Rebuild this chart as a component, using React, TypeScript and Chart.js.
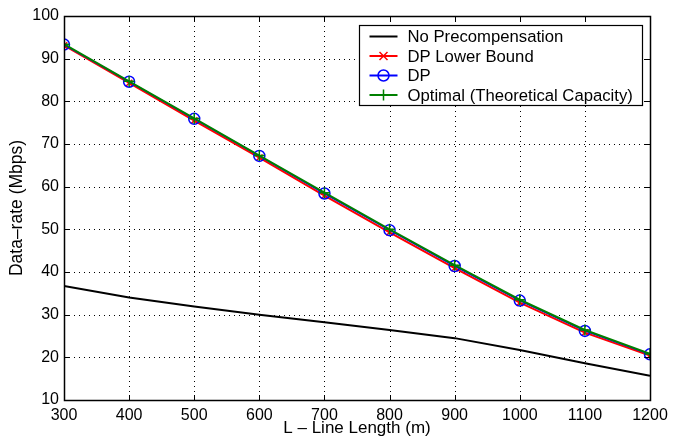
import React, { useEffect, useRef } from "react";
import { Chart, registerables } from "chart.js";

Chart.register(...registerables);

const lineLengths = [300, 400, 500, 600, 700, 800, 900, 1000, 1100, 1200];
const noPrecomp = [36.7, 34.0, 31.9, 30.0, 28.2, 26.4, 24.5, 21.7, 18.6, 15.7];
const dpLowerBound = [93.1, 84.3, 75.5, 66.8, 57.9, 49.3, 40.9, 32.8, 25.8, 20.4];
const dp = [93.3, 84.6, 75.9, 67.2, 58.4, 49.8, 41.4, 33.3, 26.2, 20.7];
const optimal = [93.4, 84.7, 76.0, 67.3, 58.6, 50.0, 41.6, 33.5, 26.4, 20.8];

const seriesNames = [
  "No Precompensation",
  "DP Lower Bound",
  "DP",
  "Optimal (Theoretical Capacity)",
];
const seriesColors = ["#000000", "#ff0000", "#0000ff", "#008000"];
const seriesMarkers = ["none", "x", "o", "+"];

const FONT = "'Liberation Sans', Arial, Helvetica, sans-serif";

const toPts = (vals: number[]) => lineLengths.map((x, i) => ({ x, y: vals[i] }));

function drawMarker(ctx: CanvasRenderingContext2D, kind: string, x: number, y: number, color: string) {
  ctx.save();
  ctx.strokeStyle = color;
  ctx.lineWidth = 1.5;
  ctx.setLineDash([]);
  ctx.beginPath();
  if (kind === "x") {
    const r = 4;
    ctx.moveTo(x - r, y - r);
    ctx.lineTo(x + r, y + r);
    ctx.moveTo(x - r, y + r);
    ctx.lineTo(x + r, y - r);
  } else if (kind === "o") {
    ctx.arc(x, y, 5.5, 0, Math.PI * 2);
  } else if (kind === "+") {
    const r = 5.5;
    ctx.moveTo(x - r, y);
    ctx.lineTo(x + r, y);
    ctx.moveTo(x, y - r);
    ctx.lineTo(x, y + r);
  }
  ctx.stroke();
  ctx.restore();
}

const matlabPlugin = {
  id: "matlabStyle",
  beforeDatasetsDraw(chart: any) {
    const { ctx, chartArea, scales } = chart;
    const { left, right, top, bottom } = chartArea;
    ctx.save();
    ctx.strokeStyle = "#000";
    ctx.lineWidth = 1;
    ctx.setLineDash([1, 4]);
    scales.x.ticks.forEach((t: any) => {
      if (t.value <= scales.x.min || t.value >= scales.x.max) return;
      const px = Math.round(scales.x.getPixelForValue(t.value)) + 0.5;
      ctx.beginPath();
      ctx.moveTo(px, top);
      ctx.lineTo(px, bottom);
      ctx.stroke();
    });
    scales.y.ticks.forEach((t: any) => {
      if (t.value <= scales.y.min || t.value >= scales.y.max) return;
      const py = Math.round(scales.y.getPixelForValue(t.value)) + 0.5;
      ctx.beginPath();
      ctx.moveTo(left, py);
      ctx.lineTo(right, py);
      ctx.stroke();
    });
    ctx.restore();
  },
  afterDraw(chart: any) {
    const { ctx, chartArea, scales } = chart;
    const { left, right, top, bottom } = chartArea;
    ctx.save();
    ctx.setLineDash([]);
    ctx.strokeStyle = "#000";
    ctx.lineWidth = 1;
    const tl = 5;
    scales.x.ticks.forEach((t: any) => {
      const px = Math.round(scales.x.getPixelForValue(t.value)) + 0.5;
      ctx.beginPath();
      ctx.moveTo(px, bottom);
      ctx.lineTo(px, bottom - tl);
      ctx.moveTo(px, top);
      ctx.lineTo(px, top + tl);
      ctx.stroke();
    });
    scales.y.ticks.forEach((t: any) => {
      const py = Math.round(scales.y.getPixelForValue(t.value)) + 0.5;
      ctx.beginPath();
      ctx.moveTo(left, py);
      ctx.lineTo(left + tl, py);
      ctx.moveTo(right, py);
      ctx.lineTo(right - tl, py);
      ctx.stroke();
    });
    ctx.lineWidth = 1.5;
    ctx.strokeRect(Math.round(left) + 0.5, Math.round(top) + 0.5, Math.round(right - left), Math.round(bottom - top));

    const bw = 283;
    const bh = 80;
    const bx = Math.round(right - 8 - bw) + 0.5;
    const by = Math.round(top + 9) + 0.5;
    ctx.fillStyle = "#fff";
    ctx.fillRect(bx, by, bw, bh);
    ctx.lineWidth = 1.2;
    ctx.strokeStyle = "#000";
    ctx.strokeRect(bx, by, bw, bh);
    ctx.font = `16.7px ${FONT}`;
    ctx.textBaseline = "middle";
    ctx.textAlign = "left";
    seriesNames.forEach((name, i) => {
      const cy = by + 11 + i * 19.5;
      const x0 = bx + 10;
      const x1 = bx + 38;
      ctx.strokeStyle = seriesColors[i];
      ctx.lineWidth = 2;
      ctx.beginPath();
      ctx.moveTo(x0, cy);
      ctx.lineTo(x1, cy);
      ctx.stroke();
      if (seriesMarkers[i] !== "none") drawMarker(ctx, seriesMarkers[i], (x0 + x1) / 2, cy, seriesColors[i]);
      ctx.fillStyle = "#000";
      ctx.fillText(name, bx + 48, cy + 1);
    });
    ctx.restore();
  },
};

export default function App() {
  const ref = useRef<HTMLCanvasElement | null>(null);
  useEffect(() => {
    if (!ref.current) return;
    const datasets = [
      {
        label: seriesNames[0],
        data: toPts(noPrecomp),
        borderColor: seriesColors[0],
        borderWidth: 2,
        pointRadius: 0,
        order: 4,
      },
      {
        label: seriesNames[1],
        data: toPts(dpLowerBound),
        borderColor: seriesColors[1],
        borderWidth: 2,
        pointStyle: "crossRot",
        pointRadius: 4.5,
        pointBorderWidth: 1.5,
        pointBorderColor: seriesColors[1],
        order: 3,
      },
      {
        label: seriesNames[2],
        data: toPts(dp),
        borderColor: seriesColors[2],
        borderWidth: 1.5,
        pointStyle: "circle",
        pointRadius: 5.5,
        pointBorderWidth: 1.5,
        pointBackgroundColor: "rgba(0,0,0,0)",
        pointBorderColor: seriesColors[2],
        order: 2,
      },
      {
        label: seriesNames[3],
        data: toPts(optimal),
        borderColor: seriesColors[3],
        borderWidth: 2,
        pointStyle: "cross",
        pointRadius: 5.5,
        pointBorderWidth: 1.5,
        pointBorderColor: seriesColors[3],
        order: 1,
      },
    ];
    const chart = new Chart(ref.current, {
      type: "line",
      data: { datasets: datasets as any },
      options: {
        responsive: false,
        animation: false,
        devicePixelRatio: 1,
        layout: { padding: { left: 0, right: 29, top: 16, bottom: 0 } },
        plugins: { legend: { display: false }, tooltip: { enabled: false } },
        elements: { line: { tension: 0 } },
        scales: {
          x: {
            type: "linear",
            min: 300,
            max: 1200,
            grid: { display: false, drawTicks: false },
            border: { display: false },
            ticks: {
              stepSize: 100,
              color: "#000",
              padding: 6,
              maxRotation: 0,
              font: { family: FONT, size: 16 },
              callback: (v: any) => String(v),
            },
            title: {
              display: true,
              text: "L – Line Length (m)",
              color: "#000",
              font: { family: FONT, size: 17 },
              padding: { top: 0, bottom: 0 },
            },
            afterFit: (s: any) => {
              s.height = 39;
            },
          },
          y: {
            type: "linear",
            min: 10,
            max: 100,
            grid: { display: false, drawTicks: false },
            border: { display: false },
            ticks: {
              stepSize: 10,
              color: "#000",
              padding: 5,
              font: { family: FONT, size: 16 },
            },
            title: {
              display: true,
              text: "Data–rate (Mbps)",
              color: "#000",
              font: { family: FONT, size: 17.5 },
              padding: { top: 7, bottom: 0 },
            },
            afterFit: (s: any) => {
              s.width = 64;
            },
          },
        },
      },
      plugins: [matlabPlugin],
    });
    return () => chart.destroy();
  }, []);
  return (
    <div style={{ position: "fixed", left: 0, top: 0, width: 679, height: 439, background: "#fff" }}>
      <canvas ref={ref} width={679} height={439} style={{ display: "block", width: 679, height: 439 }} />
    </div>
  );
}
